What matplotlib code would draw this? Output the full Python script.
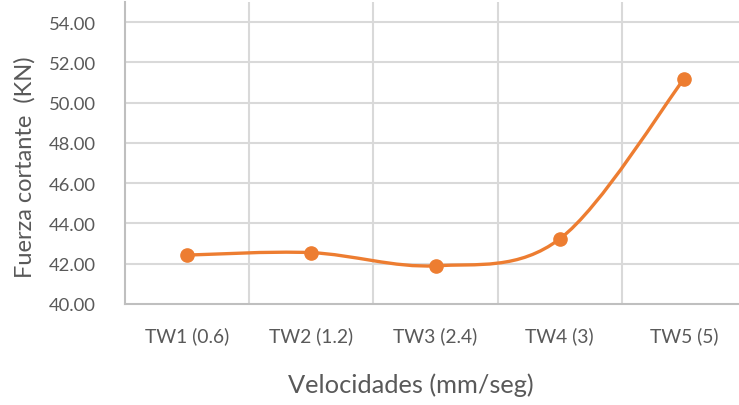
import numpy as np
import matplotlib
matplotlib.use("Agg")
import matplotlib.pyplot as plt
from matplotlib.path import Path
from matplotlib.patches import PathPatch

# data
categories = ["TW1 (0.6)", "TW2 (1.2)", "TW3 (2.4)", "TW4 (3)", "TW5 (5)"]
fuerza = [42.43, 42.55, 41.90, 43.23, 51.17]
y_ticks = [40, 42, 44, 46, 48, 50, 52, 54]

ORANGE = "#ED7D31"
GRID = "#D9D9D9"
TEXT = "#595959"
FONT = ["Lato", "DejaVu Sans"]


def smooth_path(xs, ys):
    # Excel-like smoothed line: Catmull-Rom segments as cubic Beziers
    pts = np.column_stack([xs, ys]).astype(float)
    n = len(pts)
    verts = [pts[0]]
    codes = [Path.MOVETO]
    for i in range(n - 1):
        p0 = pts[i - 1] if i > 0 else pts[i]
        p1 = pts[i]
        p2 = pts[i + 1]
        p3 = pts[i + 2] if i + 2 < n else pts[i + 1]
        c1 = p1 + (p2 - p0) / 6.0
        c2 = p2 - (p3 - p1) / 6.0
        verts += [c1, c2, p2]
        codes += [Path.CURVE4] * 3
    return Path(verts, codes)


def fit_size(fig, text, width_px, base=12):
    # font size that gives the text the wanted width in pixels
    t = fig.text(0, 0, text, fontsize=base)
    w = t.get_window_extent(fig.canvas.get_renderer()).width
    t.remove()
    return base * width_px / w


def main():
    plt.rcParams["font.family"] = FONT
    fig = plt.figure(figsize=(7.39, 4.06), dpi=100)
    # plot area: left 125px, right 746px (past the edge), top 3px, bottom 305px
    ax = fig.add_axes([125 / 739, 1 - 305 / 406, 621 / 739, 302 / 406])

    x = np.arange(len(categories))
    ax.add_patch(PathPatch(smooth_path(x, fuerza), facecolor="none",
                           edgecolor=ORANGE, lw=2.4, capstyle="round",
                           zorder=3))
    ax.plot(x, fuerza, linestyle="none", marker="o", ms=9.5,
            color=ORANGE, zorder=4)

    ax.set_xlim(-0.5, len(categories) - 0.5)
    ax.set_ylim(40, 55)
    ax.set_yticks(y_ticks)
    ax.set_yticklabels([f"{v:.2f}" for v in y_ticks])
    ax.set_xticks(x)
    ax.set_xticklabels(categories)

    # grid: horizontal at ticks, vertical at category boundaries
    for v in y_ticks[1:]:
        ax.axhline(v, color=GRID, lw=1.5, zorder=1)
    for b in np.arange(0.5, len(categories), 1.0):
        ax.axvline(b, color=GRID, lw=1.5, zorder=1)

    for s in ["top", "right"]:
        ax.spines[s].set_visible(False)
    for s in ["left", "bottom"]:
        ax.spines[s].set_color("#BFBFBF")
        ax.spines[s].set_linewidth(1.5)

    ax.tick_params(axis="both", length=0, colors=TEXT)
    ax.tick_params(axis="y", labelsize=fit_size(fig, "54.00", 47), pad=21)
    ax.tick_params(axis="x", labelsize=fit_size(fig, "TW1 (0.6)", 84),
                   pad=16)

    fig.text(25 / 739, 1 - 167 / 406, "Fuerza cortante  (KN)", rotation=90,
             ha="center", va="center", color=TEXT,
             fontsize=fit_size(fig, "Fuerza cortante  (KN)", 221))
    fig.text(411 / 739, 1 - 385 / 406, "Velocidades (mm/seg)",
             ha="center", va="center", color=TEXT,
             fontsize=fit_size(fig, "Velocidades (mm/seg)", 245))

    fig.savefig("out.png", dpi=100)


if __name__ == "__main__":
    main()
